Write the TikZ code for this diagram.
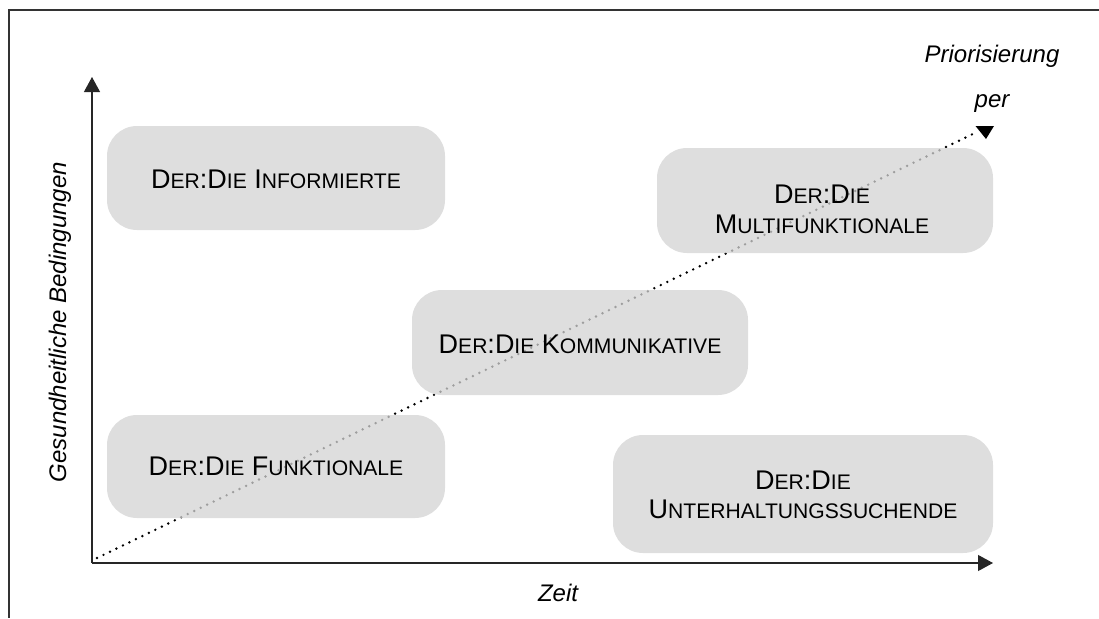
\documentclass[tikz,border=0pt]{standalone}
\usepackage{fontspec}
\setmainfont{Liberation Sans}
\usetikzlibrary{arrows.meta}

% faked small capitals: full-size initials, reduced capitals for the rest
\newcommand\sml[1]{{\fontsize{21.1}{29}\selectfont #1}}

\begin{document}
\begin{tikzpicture}[x=1pt,y=-1pt,
    frameline/.style={draw=black!80,line width=1.3pt},
    axisline/.style={draw=black!85,line width=1.1pt,-{Triangle[width=16pt,length=15pt]}},
    trendline/.style={draw=black,line width=2.7pt,line cap=round,dash pattern=on 0pt off 7.2pt},
    typebox/.style={rounded corners=30pt,
      fill={rgb,255:red,211;green,211;blue,211},fill opacity=0.75,inner sep=0pt},
    typetext/.style={align=center,inner sep=0pt,font=\fontsize{27}{29}\selectfont},
    axislabel/.style={font=\fontsize{24}{28}\selectfont\itshape}]
  \useasboundingbox (0,0) rectangle (1099,618);

  % open frame: top and left edges only
  \draw[frameline] (1099,10) -- (9,10) -- (9,618);

  % axes
  \coordinate (o) at (92,563);
  \coordinate (ytop) at (92,77);
  \coordinate (xend) at (993,563);
  \draw[axisline] (o) -- (ytop);
  \draw[axisline] (o) -- (xend);

  % dotted trend line towards the upper right
  \coordinate (tstart) at (97,558);
  \coordinate (tend) at (977,132);
  \draw[trendline] (tstart) -- (tend);
  \fill[black] (975.5,126) -- (994,126) -- (986,139) -- cycle;

  % the five types: translucent boxes over the trend line
  \node[typebox,minimum width=338pt,minimum height=104pt] (inf) at (276,178) {};
  \node[typebox,minimum width=336pt,minimum height=105pt] (mult) at (825,200.5) {};
  \node[typebox,minimum width=336pt,minimum height=105pt] (komm) at (580,342.5) {};
  \node[typebox,minimum width=338pt,minimum height=103pt] (funk) at (276,466.5) {};
  \node[typebox,minimum width=380pt,minimum height=118pt] (unt) at (803,494) {};

  \node[typetext] (inft) at ([yshift=-1pt]inf.center)
    {D\sml{ER}:D\sml{IE} I\sml{NFORMIERTE}};
  \node[typetext] (multt) at ([yshift=-9pt,xshift=-3pt]mult.center)
    {D\sml{ER}:D\sml{IE}\\[1pt]M\sml{ULTIFUNKTIONALE}};
  \node[typetext] (kommt) at ([yshift=-2pt]komm.center)
    {D\sml{ER}:D\sml{IE} K\sml{OMMUNIKATIVE}};
  \node[typetext] (funkt) at (funk.center)
    {D\sml{ER}:D\sml{IE} F\sml{UNKTIONALE}};
  \node[typetext] (untt) at ([yshift=-1pt]unt.center)
    {D\sml{ER}:D\sml{IE}\\U\sml{NTERHALTUNGSSUCHENDE}};

  % axis captions
  \node[axislabel] (zeit) at (558,593) {Zeit};
  \node[axislabel,rotate=90] (gesund) at (60,322) {Gesundheitliche Bedingungen};
  \node[axislabel,align=center] (prio) at (992,79)
    {Priorisierung\\[17pt]per};
\end{tikzpicture}
\end{document}
